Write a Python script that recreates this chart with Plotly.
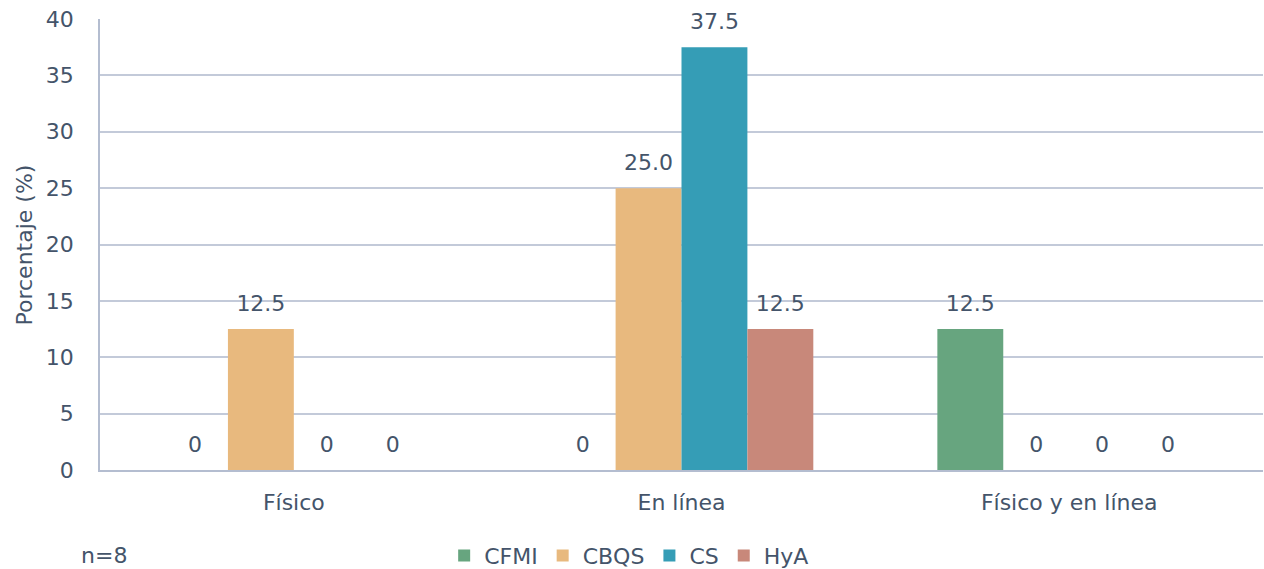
import plotly.graph_objects as go

categories = ["Físico", "En línea", "Físico y en línea"]
series_names = ["CFMI", "CBQS", "CS", "HyA"]
cfmi = [0, 0, 12.5]
cbqs = [12.5, 25.0, 0]
cs = [0, 37.5, 0]
hya = [0, 12.5, 0]
y_ticks = [0, 5, 10, 15, 20, 25, 30, 35, 40]

values = [cfmi, cbqs, cs, hya]
colors = ["#67A57F", "#E8B97E", "#359DB6", "#C8887A"]
text_color = "#44546A"
font_family = "DejaVu Sans, Verdana, sans-serif"
fs = 22

def fmt(v):
    return "0" if v == 0 else f"{v:.1f}"

fig = go.Figure()
for name, vals, col in zip(series_names, values, colors):
    fig.add_trace(go.Bar(
        name=name, x=categories, y=vals, marker_color=col,
        marker_line_width=0, offsetgroup=name, alignmentgroup="a",
        cliponaxis=False,
    ))
for name, vals in zip(series_names, values):
    fig.add_trace(go.Scatter(
        x=categories, y=vals, mode="markers+text", showlegend=False,
        offsetgroup=name, alignmentgroup="a",
        marker=dict(size=18, opacity=0), hoverinfo="skip",
        text=[fmt(v) for v in vals], textposition="top center",
        textfont=dict(size=fs, color=text_color, family=font_family),
        cliponaxis=False,
    ))

fig.update_layout(
    width=1264, height=569,
    margin=dict(l=100, r=1, t=19, b=99, autoexpand=False),
    plot_bgcolor="white", paper_bgcolor="white",
    barmode="group", bargap=0.32, bargroupgap=0,
    scattermode="group", scattergap=0.32,
    font=dict(family=font_family, size=fs, color=text_color),
    showlegend=True,
    legend=dict(orientation="h", x=0.455, xanchor="center", y=-0.19, yanchor="middle",
                font=dict(size=fs, color=text_color), itemwidth=30, traceorder="normal"),
)
fig.update_yaxes(range=[0, 40], tickvals=y_ticks, showgrid=True, gridcolor="#C3CAD9",
                 gridwidth=1.5, showline=True, linecolor="#B4BDD0", linewidth=1.5,
                 ticks="outside", ticklen=20, tickcolor="rgba(0,0,0,0)",
                 tickfont=dict(size=fs, color=text_color), zeroline=False, automargin=False)
fig.update_xaxes(showline=True, linecolor="#B4BDD0", linewidth=1.5,
                 ticks="outside", ticklen=12, tickcolor="rgba(0,0,0,0)",
                 tickfont=dict(size=fs, color=text_color), automargin=False)

fig.add_annotation(text="Porcentaje (%)", xref="paper", yref="paper",
                   x=-0.0645, y=0.5, textangle=-90, showarrow=False,
                   font=dict(size=fs, color=text_color), xanchor="center", yanchor="middle")
fig.add_annotation(text="n=8", xref="paper", yref="paper",
                   x=-0.018, y=-0.19, showarrow=False, xanchor="left", yanchor="middle",
                   font=dict(size=fs, color=text_color))

fig.write_html("out.html", config={"displayModeBar": False},
               post_script="document.body.style.margin='0';document.body.style.overflow='hidden';")
